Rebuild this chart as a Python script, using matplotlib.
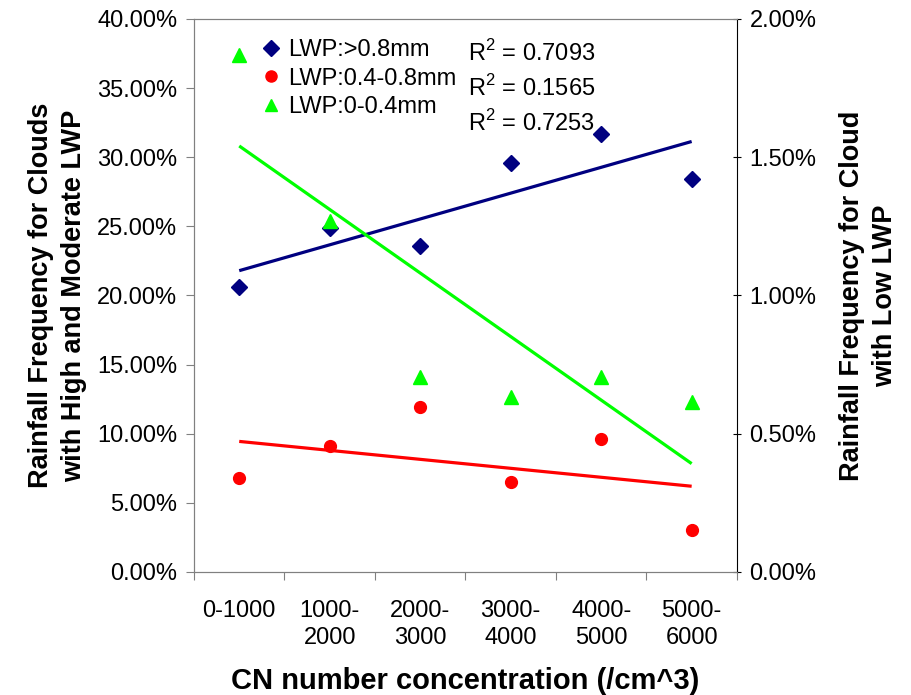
import numpy as np
import matplotlib
matplotlib.use("Agg")
import matplotlib.pyplot as plt

plt.rcParams['font.family'] = ['Liberation Sans', 'DejaVu Sans']
plt.rcParams['mathtext.fontset'] = 'custom'
plt.rcParams['mathtext.rm'] = 'Liberation Sans'

# CN concentration bins
cats = ['0-1000', '1000-\n2000', '2000-\n3000', '3000-\n4000', '4000-\n5000', '5000-\n6000']
# rainfall frequency (%)
high_lwp = [20.6, 24.9, 23.6, 29.6, 31.7, 28.4]      # LWP > 0.8mm, left axis
mod_lwp = [6.8, 9.1, 11.9, 6.5, 9.6, 3.04]           # LWP 0.4-0.8mm, left axis
low_lwp = [1.87, 1.27, 0.705, 0.633, 0.705, 0.615]   # LWP 0-0.4mm, right axis
r2 = ['0.7093', '0.1565', '0.7253']

x = np.arange(1, len(cats) + 1)

fig = plt.figure(figsize=(9.12, 6.95), dpi=100)
ax = fig.add_axes([0.2127, 0.177, 0.5953, 0.7957])
ax2 = ax.twinx()

def trend(ax_, y, col):
    p = np.polyfit(x, y, 1)
    ax_.plot(x, np.polyval(p, x), color=col, lw=2.3, solid_capstyle='butt', zorder=2)

h1, = ax.plot(x, high_lwp, 'D', color='#000080', ms=8, ls='none', zorder=3)
h2, = ax.plot(x, mod_lwp, 'o', color='#ff0000', ms=8.5, ls='none', zorder=3)
h3, = ax2.plot(x, low_lwp, '^', color='#00ff00', ms=10, ls='none', zorder=3)
trend(ax, high_lwp, '#000080')
trend(ax, mod_lwp, '#ff0000')
trend(ax2, low_lwp, '#00ff00')

ax.set_xlim(0.5, len(cats) + 0.5)
ax.set_ylim(0, 40)
ax2.set_ylim(0, 2)
ax.set_yticks(np.arange(0, 41, 5))
ax2.set_yticks(np.arange(0, 2.01, 0.5))
ax.set_yticklabels([f'{v:.2f}%' for v in np.arange(0, 41, 5)])
ax2.set_yticklabels([f'{v:.2f}%' for v in np.arange(0, 2.01, 0.5)])

ax.set_xticks(np.arange(0.5, len(cats) + 1, 1))
ax.set_xticklabels([])
ax.set_xticks(x, minor=True)
ax.set_xticklabels(cats, minor=True, fontsize=17, linespacing=1.3)
ax.tick_params(axis='x', which='minor', length=0, pad=20)
ax.tick_params(axis='x', which='major', length=6, direction='out', color='#808080')
ax.tick_params(axis='y', length=6, direction='out', labelsize=17, color='#808080', pad=6)
ax2.tick_params(axis='y', length=6, direction='inout', labelsize=17, pad=6)

for s in ['left', 'bottom', 'top']:
    ax.spines[s].set_color('#808080')
    ax2.spines[s].set_color('#808080')
ax2.spines['right'].set_color('black')
ax.spines['right'].set_visible(False)

ax.set_ylabel('Rainfall Frequency for Clouds\nwith High and Moderate LWP', fontsize=19.5,
              fontweight='bold', labelpad=7, linespacing=1.35)
ax2.set_ylabel('Rainfall Frequency for Cloud\nwith Low LWP', fontsize=19.5,
               fontweight='bold', labelpad=16, rotation=90, linespacing=1.35)
ax.set_xlabel('CN number concentration (/cm^3)', fontsize=21, fontweight='bold', labelpad=13)

leg = ax.legend([h1, h2, h3], ['LWP:>0.8mm', 'LWP:0.4-0.8mm', 'LWP:0-0.4mm'],
                loc='upper left', bbox_to_anchor=(0.1, 0.985), frameon=False,
                fontsize=17, handlelength=0.9, handletextpad=0.3, labelspacing=0.28,
                borderpad=0)
for h in leg.legend_handles:
    h.set_markersize(8)

for r, yy in zip(r2, [0.9385, 0.875, 0.812]):
    ax.text(0.505, yy, r'R$^2$ = ' + r, transform=ax.transAxes, fontsize=17,
            va='center', ha='left')

fig.savefig('out.png', dpi=100)
